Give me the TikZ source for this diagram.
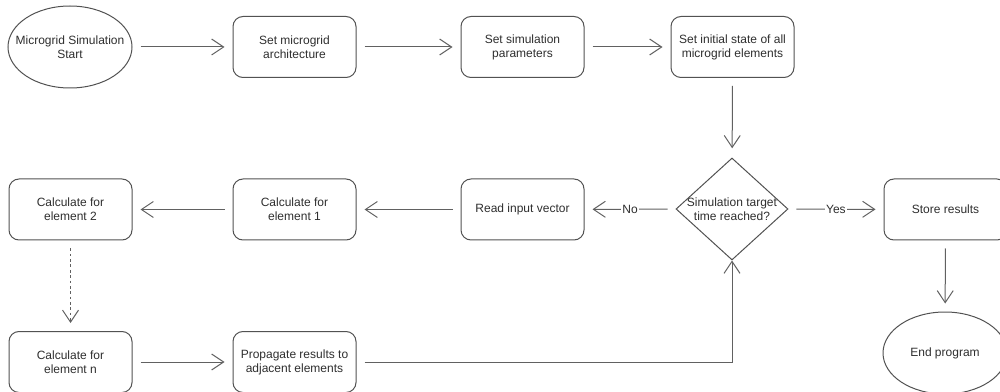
\documentclass[tikz,border=0pt]{standalone}
\usepackage{fontspec}
\setmainfont{Liberation Sans}
\usetikzlibrary{shapes.geometric,arrows.meta}
\begin{document}
\begin{tikzpicture}[x=0.75pt,y=-0.75pt,
  every node/.style={font=\fontsize{9}{10.5}\selectfont, text=black!82},
  proc/.style={draw=black!68, line width=0.75pt, rounded corners=7.5pt,
    minimum width=92.25pt, minimum height=45.75pt, align=center, inner sep=0pt},
  term/.style={draw=black!68, line width=0.75pt, ellipse,
    minimum width=93pt, minimum height=61.5pt, inner sep=0pt},
  decision/.style={draw=black!68, line width=0.75pt, diamond,
    minimum width=84pt, minimum height=76.5pt, inner sep=0pt},
  caption/.style={align=center, inner sep=0pt},
  flow/.style={draw=black!62, line width=0.75pt,
    -{Straight Barb[length=9pt,width=12pt]}, shorten >=6pt, shorten <=6pt},
  lbl/.style={fill=white, inner sep=1pt}
]
\useasboundingbox (0,0) rectangle (1000,392);

% top row
\node[term] (start) at (70,47) {};
\node[caption] (startText) at (start) {Microgrid Simulation\\Start};
\node[proc] (arch)  at (294.5,47) {Set microgrid\\architecture};
\node[proc] (param) at (522.5,47) {Set simulation\\parameters};
\node[proc] (init)  at (732.5,47) {Set initial state of all\\microgrid elements};

% middle row
\node[decision] (dec) at (732,209) {};
\node[caption] (decText) at (dec) {Simulation target\\time reached?};
\node[proc] (read)  at (522.5,209.5) {Read input vector};
\node[proc] (calc1) at (294.5,209.5) {Calculate for\\element 1};
\node[proc] (calc2) at (70.5,209.5) {Calculate for\\element 2};
\node[proc] (store) at (945.5,209.5) {Store results};

% bottom row
\node[proc] (calcn) at (70.5,362) {Calculate for\\element n};
\node[proc] (prop)  at (294.5,362) {Propagate results to\\adjacent elements};
\node[term] (finish) at (945,353) {};
\node[caption] (finishText) at (finish) {End program};

% connectors
\draw[flow] (start) -- (arch);
\draw[flow] (arch) -- (param);
\draw[flow] (param) -- (init);
\draw[flow, shorten >=7pt] (init) -- (dec);
\draw[flow] (dec) -- node[lbl] {No} (read);
\draw[flow] (dec) -- node[lbl] {Yes} (store);
\draw[flow] (read) -- (calc1);
\draw[flow] (calc1) -- (calc2);
\draw[flow, dash pattern=on 2pt off 2pt] (calc2) -- (calcn);
\draw[flow] (calcn) -- (prop);
\draw[flow, shorten >=0pt] (prop) -- (prop -| dec) -- (dec.south);
\draw[flow] (store) -- (finish);
\end{tikzpicture}
\end{document}
